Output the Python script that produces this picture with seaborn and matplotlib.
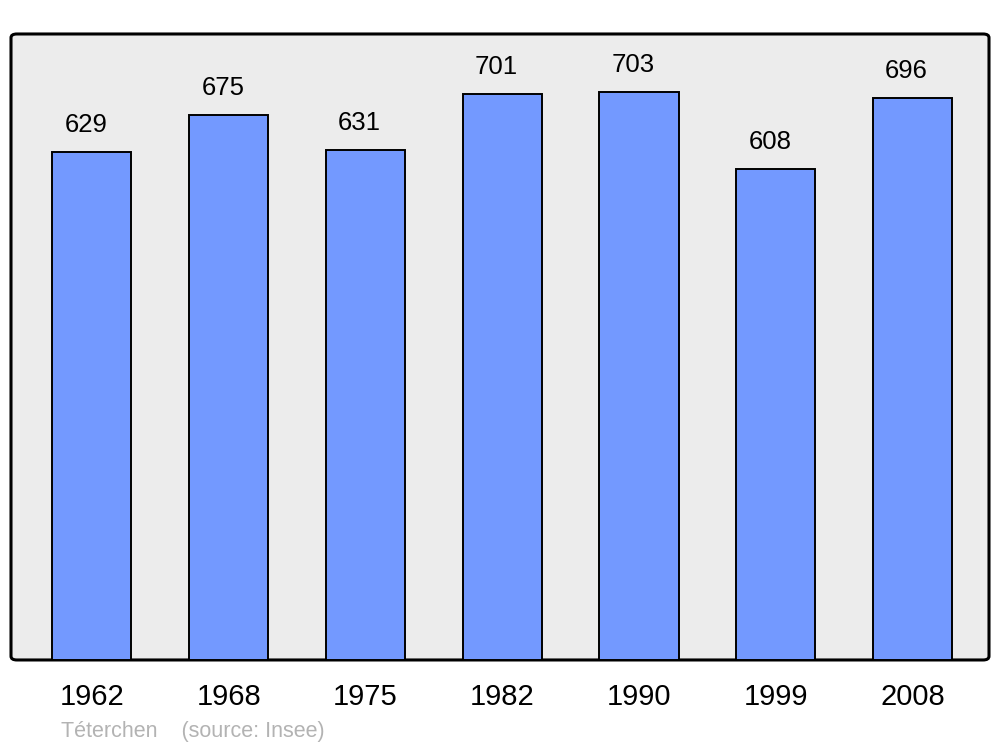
import matplotlib
matplotlib.use("Agg")
import matplotlib.pyplot as plt
import seaborn as sns
import pandas as pd
from matplotlib.patches import FancyBboxPatch

years = ["1962", "1968", "1975", "1982", "1990", "1999", "2008"]
population = [629, 675, 631, 701, 703, 608, 696]

sns.set_style("white")
plt.rcParams['font.family'] = ['Liberation Sans', 'DejaVu Sans']

df = pd.DataFrame({"year": years, "pop": population})

fig = plt.figure(figsize=(10, 7.47), dpi=100)
ax = fig.add_axes([0.011, 0.1165, 0.978, 0.838])
ax.set_facecolor("none")

bg = FancyBboxPatch((0, 0), 1, 1, boxstyle="round,pad=0,rounding_size=0.006",
                    transform=ax.transAxes, facecolor="#ececec", edgecolor="black",
                    linewidth=2.2, zorder=0, clip_on=False)
ax.add_patch(bg)

sns.barplot(data=df, x="year", y="pop", color="#7399ff", saturation=1,
            edgecolor="black", linewidth=1.4, width=0.578, ax=ax, zorder=2)

for i, v in enumerate(population):
    ax.annotate(str(v), (i, v), xytext=(-4.3, 19.5), textcoords="offset points",
                ha="center", va="center", fontsize=18.5, color="black")

ax.set_xlim(-0.592, 6.559)
ax.set_ylim(0, 775)
for s in ax.spines.values():
    s.set_visible(False)
ax.set_yticks([])
ax.set_xlabel("")
ax.set_ylabel("")
ax.tick_params(axis="x", length=0, pad=16.5, labelsize=21, labelcolor="black")

t = fig.text(0, 0, "Téterchen    (source: Insee)", transform=None,
             fontsize=15.5, color="#b3b3b3", ha="left", va="center")
t.set_position((61, 747 - 731))

fig.savefig("out.png", dpi=100)
